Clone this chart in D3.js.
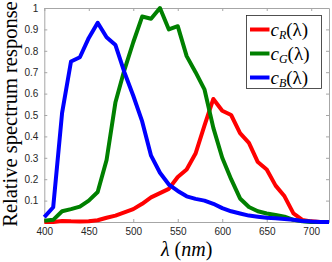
<!DOCTYPE html>
<html>
<head>
<meta charset="utf-8">
<script src="https://cdn.jsdelivr.net/npm/d3@7"></script>
<style>
  body { margin: 0; background: #fff; }
  svg { display: block; }
</style>
</head>
<body>
<div id="chart"></div>
<script>
// wavelengths (nm), 10nm steps
let wavelengths = d3.range(400, 721, 10);

let redValues = [0.0, 0.0, 0.005, 0.003, 0.002, 0.003, 0.008, 0.02, 0.03, 0.045, 0.06, 0.085, 0.115, 0.135, 0.155, 0.21, 0.245, 0.32, 0.45, 0.575, 0.52, 0.5, 0.415, 0.37, 0.28, 0.245, 0.17, 0.12, 0.04, 0.01, 0.003, 0.0, 0.0];
let greenValues = [0.006, 0.01, 0.05, 0.06, 0.072, 0.1, 0.14, 0.29, 0.56, 0.71, 0.84, 0.96, 0.95, 1.0, 0.9, 0.915, 0.775, 0.7, 0.62, 0.44, 0.3, 0.2, 0.11, 0.07, 0.05, 0.04, 0.033, 0.025, 0.01, 0.003, 0.0, 0.0, 0.0];
let blueValues = [0.023, 0.069, 0.51, 0.75, 0.77, 0.86, 0.931, 0.863, 0.827, 0.7, 0.59, 0.47, 0.31, 0.23, 0.175, 0.145, 0.12, 0.108, 0.1, 0.085, 0.065, 0.05, 0.04, 0.03, 0.025, 0.02, 0.018, 0.014, 0.01, 0.005, 0.002, 0.0, 0.0];

let seriesNames = ["R", "G", "B"];
let seriesColors = ["#ff0000", "#008000", "#0000ff"];

let xTicks = [400, 450, 500, 550, 600, 650, 700];
let yTicks = [0.1, 0.2, 0.3, 0.4, 0.5, 0.6, 0.7, 0.8, 0.9, 1];

//Width and Height
let width = 332;
let height = 262;
let margin = {left: 44.3, right: 3, top: 8, bottom: 40};

let x = d3.scaleLinear().domain([400, 720]).range([margin.left, width - margin.right]);
let y = d3.scaleLinear().domain([0, 1]).range([height - margin.bottom, margin.top]);

let chart = d3.select("#chart")
  .append("svg")
  .attr("width", width)
  .attr("height", height);

let axisColor = "#a6a6a6";
let textColor = "#262626";

//Axes
let xAxis = chart.append("g")
  .attr("transform", "translate(0," + y(0) + ")")
  .call(d3.axisBottom(x).tickValues(xTicks).tickSize(-3).tickPadding(6).tickSizeOuter(0));
let xTop = chart.append("g")
  .attr("transform", "translate(0," + y(1) + ")")
  .call(d3.axisTop(x).tickValues(xTicks).tickSize(-3).tickFormat("").tickSizeOuter(0));
let yAxis = chart.append("g")
  .attr("transform", "translate(" + x(400) + ",0)")
  .call(d3.axisLeft(y).tickValues(yTicks).tickSize(-3).tickPadding(6).tickFormat(d3.format("")).tickSizeOuter(0));
let yRight = chart.append("g")
  .attr("transform", "translate(" + x(720) + ",0)")
  .call(d3.axisRight(y).tickValues(yTicks).tickSize(-3).tickFormat("").tickSizeOuter(0));

[xAxis, xTop, yAxis, yRight].forEach(function(g) {
  g.selectAll("path, line").attr("stroke", axisColor).attr("stroke-width", 1);
  g.selectAll("text")
    .attr("fill", textColor)
    .style("font-family", "'Liberation Sans', Arial, sans-serif")
    .style("font-size", "10px");
});

//Curves
let allSeries = [redValues, greenValues, blueValues];
let line = d3.line()
  .x((d, i) => x(wavelengths[i]))
  .y(d => y(d));

chart.append("g")
  .selectAll("path")
  .data(allSeries)
  .enter()
  .append("path")
  .attr("d", line)
  .attr("fill", "none")
  .attr("stroke", (d, i) => seriesColors[i])
  .attr("stroke-width", 4)
  .attr("stroke-linejoin", "round");

//Legend
let legend = chart.append("g").attr("transform", "translate(246.5,15.5)");
legend.append("rect")
  .attr("width", 75)
  .attr("height", 73)
  .attr("fill", "#fff")
  .attr("stroke", "#262626")
  .attr("stroke-width", 0.8);

let rows = legend.selectAll("g.row")
  .data(seriesNames)
  .enter()
  .append("g")
  .attr("class", "row")
  .attr("transform", (d, i) => "translate(0," + (14 + i * 24) + ")");

rows.append("line")
  .attr("x1", 3.5).attr("x2", 23)
  .attr("stroke", (d, i) => seriesColors[i])
  .attr("stroke-width", 4);

let label = rows.append("text")
  .attr("x", 24)
  .attr("y", 6)
  .style("font-family", "'Liberation Serif', 'DejaVu Serif', serif")
  .style("font-size", "19px")
  .attr("fill", "#000");
label.append("tspan").style("font-style", "italic").text("c");
label.append("tspan").style("font-style", "italic").style("font-size", "12px").attr("dy", 3).text(d => d);
label.append("tspan").attr("dy", -3).text("(");
label.append("tspan").text("λ");
label.append("tspan").text(")");

//Axis titles
chart.append("text")
  .attr("transform", "translate(17,114) rotate(-90)")
  .attr("text-anchor", "middle")
  .style("font-family", "'Liberation Serif', 'DejaVu Serif', serif")
  .style("font-size", "20.5px")
  .attr("fill", "#000")
  .text("Relative spectrum response");

let xt = chart.append("text")
  .attr("x", x(560))
  .attr("y", 256)
  .attr("text-anchor", "middle")
  .style("font-family", "'Liberation Serif', 'DejaVu Serif', serif")
  .style("font-size", "20px")
  .attr("fill", "#000");
xt.append("tspan").style("font-style", "italic").text("λ");
xt.append("tspan").text(" (");
xt.append("tspan").style("font-style", "italic").text("nm");
xt.append("tspan").text(")");
</script>
</body>
</html>
